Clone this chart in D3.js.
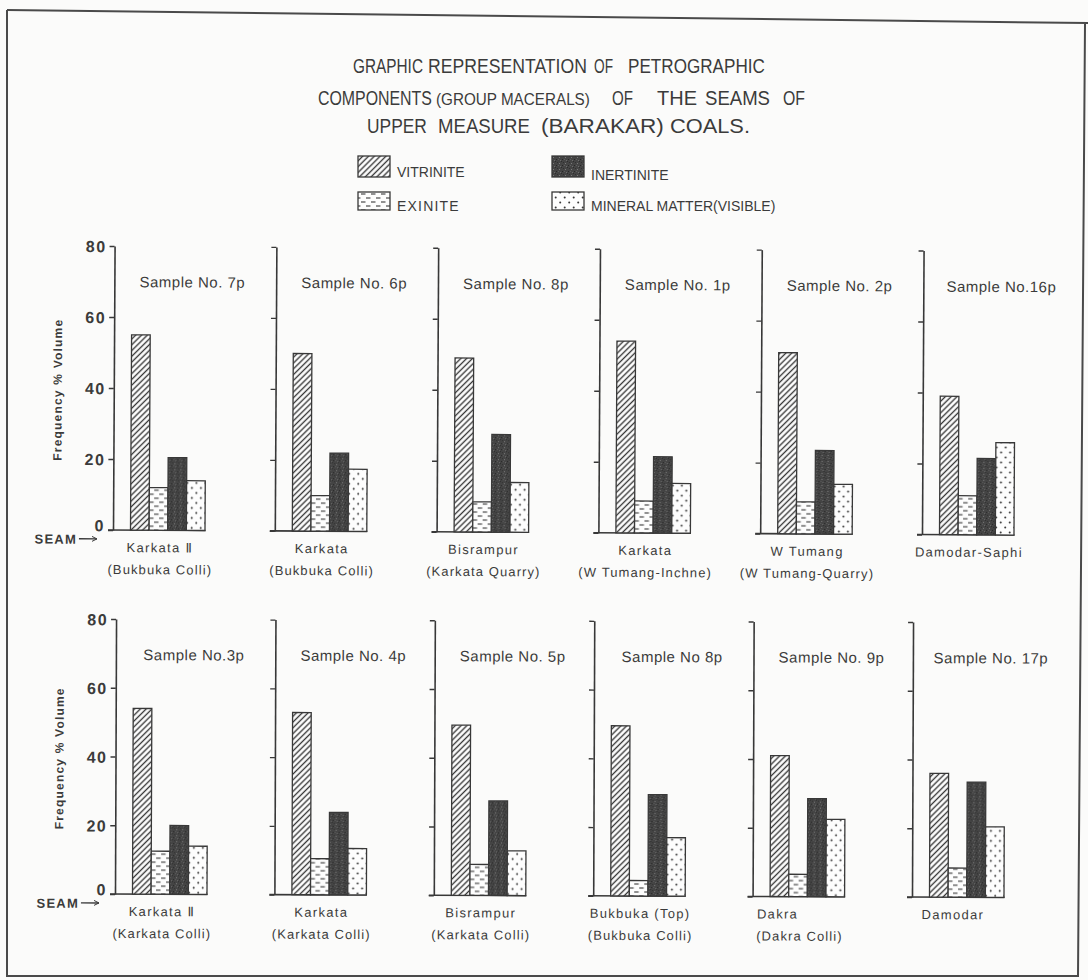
<!DOCTYPE html>
<html>
<head>
<meta charset="utf-8">
<script src="https://cdn.jsdelivr.net/npm/d3@7"></script>
<style>
  html, body { margin: 0; padding: 0; background: #fbfbfa; }
  svg { display: block; }
  text { font-family: "Liberation Sans", Arial, "DejaVu Sans", sans-serif; fill: #3b3b3b; }
</style>
</head>
<body>
<svg id="chart" width="1088" height="980"></svg>
<script>
// ---- data ----------------------------------------------------------------
const macerals = ["Vitrinite", "Exinite", "Inertinite", "Mineral matter"];
const yTicks = [0, 20, 40, 60, 80];

// Upper row of seams
const upperSamples = ["Sample No. 7p", "Sample No. 6p", "Sample No. 8p", "Sample No. 1p", "Sample No. 2p", "Sample No.16p"];
const upperSeams = ["Karkata \u2161", "Karkata", "Bisrampur", "Karkata", "W Tumang", "Damodar-Saphi"];
const upperCollieries = ["(Bukbuka Colli)", "(Bukbuka Colli)", "(Karkata Quarry)", "(W Tumang-Inchne)", "(W Tumang-Quarry)", ""];
const upperVitrinite = [55, 50, 49, 54, 51, 39];
const upperExinite = [12, 10, 8.5, 9, 9, 11];
const upperInertinite = [20.5, 22, 27.5, 21.5, 23.5, 21.5];
const upperMineral = [14, 17.5, 14, 14, 14, 26];

// Lower row of seams
const lowerSamples = ["Sample No.3p", "Sample No. 4p", "Sample No. 5p", "Sample No 8p", "Sample No. 9p", "Sample No. 17p"];
const lowerSeams = ["Karkata \u2161", "Karkata", "Bisrampur", "Bukbuka (Top)", "Dakra", "Damodar"];
const lowerCollieries = ["(Karkata Colli)", "(Karkata Colli)", "(Karkata Colli)", "(Bukbuka Colli)", "(Dakra Colli)", ""];
const lowerVitrinite = [54, 53, 49.5, 49.5, 41, 36];
const lowerExinite = [12.5, 10.5, 9, 4.5, 6.5, 8.5];
const lowerInertinite = [20, 24, 27.5, 29.5, 28.5, 33.5];
const lowerMineral = [14, 13.5, 13, 17, 22.5, 20.5];

// ---- drawing -------------------------------------------------------------
const ink = "#383838";
const svg = d3.select("#chart");
svg.append("rect").attr("width", 1088).attr("height", 980).attr("fill", "#fbfbfa");

const defs = svg.append("defs");
const patternIds = { "Vitrinite": "pat-vit", "Exinite": "pat-exi", "Inertinite": "pat-ine", "Mineral matter": "pat-min" };

// diagonal hatching
const pv = defs.append("pattern").attr("id", "pat-vit").attr("patternUnits", "userSpaceOnUse")
  .attr("width", 4.1).attr("height", 4.1).attr("patternTransform", "rotate(45)");
pv.append("rect").attr("width", 4.1).attr("height", 4.1).attr("fill", "#fdfdfd");
pv.append("line").attr("x1", 2.05).attr("x2", 2.05).attr("y1", -1).attr("y2", 5.1)
  .attr("stroke", ink).attr("stroke-width", 1.35);

// short staggered dashes
const pe = defs.append("pattern").attr("id", "pat-exi").attr("patternUnits", "userSpaceOnUse")
  .attr("width", 10).attr("height", 8);
pe.append("rect").attr("width", 10).attr("height", 8).attr("fill", "#fdfdfd");
pe.append("line").attr("x1", 1).attr("x2", 5.5).attr("y1", 2).attr("y2", 2).attr("stroke", ink).attr("stroke-width", 1.1);
pe.append("line").attr("x1", 6).attr("x2", 10).attr("y1", 6).attr("y2", 6).attr("stroke", ink).attr("stroke-width", 1.1);
pe.append("line").attr("x1", 0).attr("x2", 0.5).attr("y1", 6).attr("y2", 6).attr("stroke", ink).attr("stroke-width", 1.1);

// dark stipple
const pi = defs.append("pattern").attr("id", "pat-ine").attr("patternUnits", "userSpaceOnUse")
  .attr("width", 6).attr("height", 6);
pi.append("rect").attr("width", 6).attr("height", 6).attr("fill", "#444444");
[[1, 1, "#7a7a7a"], [4, 3, "#262626"], [2, 4, "#6c6c6c"], [5, 0, "#303030"], [0, 3, "#5e5e5e"], [3, 5, "#2c2c2c"]]
  .forEach(([x, y, c]) => pi.append("rect").attr("x", x).attr("y", y).attr("width", 1).attr("height", 1).attr("fill", c));

// sparse dots
const pm = defs.append("pattern").attr("id", "pat-min").attr("patternUnits", "userSpaceOnUse")
  .attr("width", 9).attr("height", 10);
pm.append("rect").attr("width", 9).attr("height", 10).attr("fill", "#fdfdfd");
pm.append("circle").attr("cx", 2.2).attr("cy", 2.5).attr("r", 1).attr("fill", ink);
pm.append("circle").attr("cx", 6.7).attr("cy", 7.5).attr("r", 1).attr("fill", ink);

// arrowhead for the seam pointer
defs.append("marker").attr("id", "arrow").attr("viewBox", "0 0 8 8")
  .attr("refX", 7).attr("refY", 4).attr("markerWidth", 6).attr("markerHeight", 6)
  .attr("markerUnits", "userSpaceOnUse").attr("orient", "auto")
  .append("path").attr("d", "M0,0.5 L7,4 L0,7.5").attr("fill", "none")
  .attr("stroke", ink).attr("stroke-width", 1.3);

// page frame
const frame = svg.append("g").attr("stroke", "#4a4a4a").attr("stroke-width", 2).attr("fill", "none");
frame.append("path").attr("d", "M7,10 L1088,23");
frame.append("path").attr("d", "M7,10 L7,976 L1078,976 L1085,24");

// heading: condensed lettering, each word group squeezed to its drawn width
const heading = [
  { t: "GRAPHIC", x: 353, w: 70, y: 73, s: 20.5 },
  { t: "REPRESENTATION", x: 428, w: 159, y: 73, s: 20.5 },
  { t: "OF", x: 594, w: 19, y: 73, s: 20.5 },
  { t: "PETROGRAPHIC", x: 628, w: 137, y: 73, s: 20.5 },
  { t: "COMPONENTS", x: 318, w: 114, y: 105, s: 20.5 },
  { t: "(GROUP MACERALS)", x: 436, w: 154, y: 105, s: 16.5 },
  { t: "OF", x: 612, w: 21, y: 105, s: 20.5 },
  { t: "THE", x: 657, w: 40, y: 105, s: 20.5 },
  { t: "SEAMS", x: 705, w: 65, y: 105, s: 20.5 },
  { t: "OF", x: 783, w: 22, y: 105, s: 20.5 },
  { t: "UPPER", x: 367, w: 60, y: 133, s: 20.5 },
  { t: "MEASURE", x: 438, w: 92, y: 133, s: 20.5 },
  { t: "(BARAKAR)", x: 541, w: 123, y: 133, s: 20.5 },
  { t: "COALS.", x: 670, w: 80, y: 133, s: 20.5 }
];
svg.append("g").selectAll("text").data(heading).join("text")
  .attr("font-size", d => d.s)
  .text(d => d.t)
  .each(function (d) {
    const natural = this.getComputedTextLength();
    const sx = natural > 0 ? d.w / natural : 1;
    d3.select(this).attr("transform", `translate(${d.x},${d.y}) scale(${sx},1)`);
  });

// legend
const legendLabels = ["VITRINITE", "EXINITE", "INERTINITE", "MINERAL MATTER(VISIBLE)"];
const legendCol = d3.scaleOrdinal().domain(macerals).range([358, 358, 552, 552]);
const legendRow = d3.scaleOrdinal().domain(macerals).range([156, 192, 156, 192]);
const lg = svg.append("g");
lg.selectAll("rect").data(macerals).join("rect")
  .attr("x", d => legendCol(d)).attr("y", d => legendRow(d))
  .attr("width", 32).attr("height", d => d === "Vitrinite" || d === "Inertinite" ? 21 : 18)
  .attr("fill", d => `url(#${patternIds[d]})`)
  .attr("stroke", ink).attr("stroke-width", 1.3);
lg.selectAll("text").data(macerals).join("text")
  .attr("x", d => legendCol(d) + 39)
  .attr("y", d => legendRow(d) + (d === "Vitrinite" ? 21 : d === "Inertinite" ? 24 : 18.5))
  .attr("font-size", 14)
  .attr("letter-spacing", d => d === "Exinite" ? 1.2 : 0)
  .text((d, i) => legendLabels[i]);

// ---- panels --------------------------------------------------------------
const rows = [
  { samples: upperSamples, seams: upperSeams, collieries: upperCollieries,
    series: [upperVitrinite, upperExinite, upperInertinite, upperMineral],
    x0: 113, x5: 922, yZero: 530, yTop: 246, tilt: 0.32, seamNudge: [0, 0, 0, 0, 0, 0] },
  { samples: lowerSamples, seams: lowerSeams, collieries: lowerCollieries,
    series: [lowerVitrinite, lowerExinite, lowerInertinite, lowerMineral],
    x0: 115, x5: 912, yZero: 894, yTop: 619, tilt: 0.22, seamNudge: [0, 0, 0, 0, -22, -6] }
];

const band = d3.scaleBand().domain(macerals).range([17.5, 92]).padding(0);

rows.forEach(row => {
  const g = svg.append("g").attr("transform", `rotate(${row.tilt} ${row.x0} ${row.yZero})`);
  const px = d3.scaleLinear().domain([0, row.samples.length - 1]).range([row.x0, row.x5]);
  const y = d3.scaleLinear().domain([0, 80]).range([row.yZero, row.yTop]);

  // y-axis caption and seam pointer, left of the first panel
  g.append("text")
    .attr("transform", `translate(${row.x0 - 52},${(y(0) + y(80)) / 2 + 2}) rotate(-90)`)
    .attr("text-anchor", "middle").attr("font-size", 12).attr("font-weight", "bold")
    .attr("letter-spacing", 1.2)
    .text("Frequency % Volume");
  g.append("text")
    .attr("x", row.x0 - 36).attr("y", y(0) + 14)
    .attr("text-anchor", "end").attr("font-size", 13).attr("font-weight", "bold")
    .attr("letter-spacing", 1.2)
    .text("SEAM");
  g.append("line")
    .attr("x1", row.x0 - 34).attr("x2", row.x0 - 16)
    .attr("y1", y(0) + 9).attr("y2", y(0) + 9)
    .attr("stroke", ink).attr("stroke-width", 1.4)
    .attr("marker-end", "url(#arrow)");

  row.samples.forEach((sample, i) => {
    const p = g.append("g").attr("transform", `translate(${px(i)},0)`);

    const axis = d3.axisLeft(y).tickValues(yTicks).tickSize(5).tickSizeOuter(0).tickPadding(3)
      .tickFormat(i === 0 ? d3.format("d") : () => "");
    const ag = p.append("g").call(axis);
    ag.select(".domain").attr("stroke", ink).attr("stroke-width", 1.6);
    ag.selectAll(".tick line").attr("stroke", ink).attr("stroke-width", 1.4);
    ag.selectAll(".tick text")
      .attr("fill", "#333").attr("font-size", 16).attr("font-weight", "bold")
      .attr("font-family", "\"Liberation Sans\", Arial, sans-serif")
      .attr("letter-spacing", 1.5)
      .attr("dy", d => d === 0 ? "0.05em" : "0.36em");

    // ground line
    p.append("line")
      .attr("x1", -5).attr("x2", band.range()[1] + 0.5)
      .attr("y1", y(0)).attr("y2", y(0))
      .attr("stroke", ink).attr("stroke-width", 1.6);

    // maceral bars
    const vals = macerals.map((m, k) => ({ m, v: row.series[k][i] }));
    p.selectAll("rect.bar").data(vals).join("rect").attr("class", "bar")
      .attr("x", d => band(d.m)).attr("width", band.bandwidth())
      .attr("y", d => y(d.v)).attr("height", d => y(0) - y(d.v))
      .attr("fill", d => `url(#${patternIds[d.m]})`)
      .attr("stroke", ink).attr("stroke-width", 1.3);

    // sample number
    p.append("text")
      .attr("x", 78).attr("y", y(80) + 41)
      .attr("text-anchor", "middle").attr("font-size", 15).attr("letter-spacing", 0.5)
      .text(sample);

    // seam and colliery
    p.append("text")
      .attr("x", 47 + row.seamNudge[i]).attr("y", y(0) + 22)
      .attr("text-anchor", "middle").attr("font-size", 13).attr("letter-spacing", 1.3)
      .text(row.seams[i]);
    if (row.collieries[i]) {
      p.append("text")
        .attr("x", 47).attr("y", y(0) + 44)
        .attr("text-anchor", "middle").attr("font-size", 13).attr("letter-spacing", 1.1)
        .text(row.collieries[i]);
    }
  });
});
</script>
</body>
</html>
